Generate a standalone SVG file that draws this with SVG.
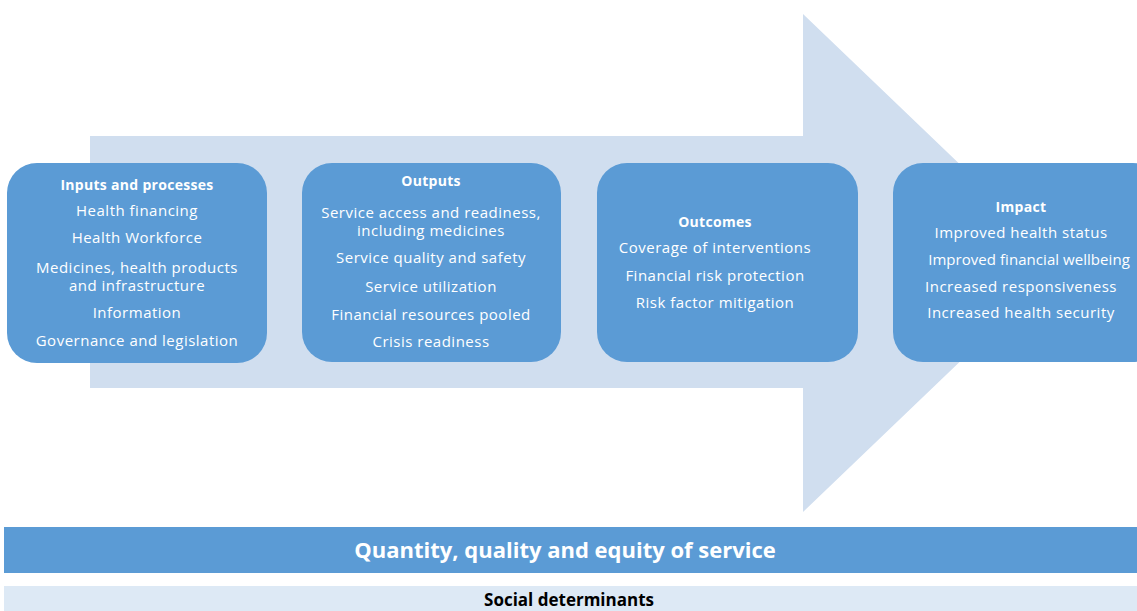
<svg xmlns="http://www.w3.org/2000/svg" width="1137" height="611" viewBox="0 0 1137 611">
<style>
.box{fill:#5b9bd5;}
.t{font-family:"Open Sans","Liberation Sans",sans-serif;font-size:15px;letter-spacing:0.5px;fill:#ffffff;text-anchor:middle;}
.h{font-weight:bold;font-size:14px;letter-spacing:0.3px;}
</style>
<rect x="0" y="0" width="1137" height="611" fill="#ffffff"/>
<g id="arrow">
<polygon points="90,136 803,136 803,14 1063,263 803,512 803,388 90,388" fill="#d0deef"/>
</g>
<g id="connectors"></g>
<g id="inputs">
<rect class="box" x="7" y="163" width="260" height="200" rx="30"/>
<text class="t h" x="137" y="190">Inputs and processes</text>
<text class="t" x="137" y="216">Health financing</text>
<text class="t" x="137" y="243">Health Workforce</text>
<text class="t" x="137" y="273">Medicines, health products</text>
<text class="t" x="137" y="291">and infrastructure</text>
<text class="t" x="137" y="318">Information</text>
<text class="t" x="137" y="346">Governance and legislation</text>
</g>
<g id="outputs">
<rect class="box" x="302" y="163" width="259" height="199" rx="30"/>
<text class="t h" x="431" y="186">Outputs</text>
<text class="t" x="431" y="218">Service access and readiness,</text>
<text class="t" x="431" y="236">including medicines</text>
<text class="t" x="431" y="263">Service quality and safety</text>
<text class="t" x="431" y="292">Service utilization</text>
<text class="t" x="431" y="320">Financial resources pooled</text>
<text class="t" x="431" y="347">Crisis readiness</text>
</g>
<g id="outcomes">
<rect class="box" x="597" y="163" width="261" height="199" rx="30"/>
<text class="t h" x="715" y="227">Outcomes</text>
<text class="t" x="715" y="253">Coverage of interventions</text>
<text class="t" x="715" y="281">Financial risk protection</text>
<text class="t" x="715" y="308">Risk factor mitigation</text>
</g>
<g id="impact">
<rect class="box" x="893" y="163" width="270" height="199" rx="30"/>
<text class="t h" x="1021" y="212">Impact</text>
<text class="t" x="1021" y="238">Improved health status</text>
<text class="t" x="1029" y="265" style="letter-spacing:0.05px">Improved financial wellbeing</text>
<text class="t" x="1021" y="292">Increased responsiveness</text>
<text class="t" x="1021" y="318">Increased health security</text>
</g>
<g id="quantity">
<rect x="4" y="527" width="1133" height="46" fill="#5b9bd5"/>
<text class="t" x="565" y="558" style="font-weight:bold;font-size:22px;letter-spacing:0">Quantity, quality and equity of service</text>
</g>
<g id="social">
<rect x="4" y="586" width="1133" height="25" fill="#dde9f5"/>
<text class="t" x="569" y="606" style="font-weight:bold;font-size:17px;letter-spacing:0;fill:#000000">Social determinants</text>
</g>
</svg>
